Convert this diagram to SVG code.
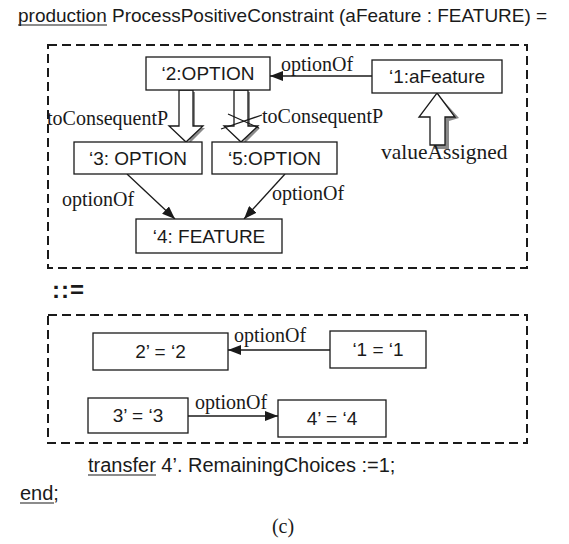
<svg xmlns="http://www.w3.org/2000/svg" width="569" height="544" viewBox="0 0 569 544">
  <style>
    .sans { font-family: "Liberation Sans", Arial, sans-serif; font-size: 19px; fill: #1a1a1a; }
    .serif { font-family: "Liberation Serif", "Times New Roman", serif; font-size: 20px; fill: #1a1a1a; }
    .node rect { fill: #ffffff; stroke: #1a1a1a; stroke-width: 1.3; }
    .node text { text-anchor: middle; }
    .frame { fill: none; stroke: #1a1a1a; stroke-width: 2; stroke-dasharray: 9 5; }
    .edge { fill: none; stroke: #1a1a1a; stroke-width: 1.3; }
    .hollow { fill: #ffffff; stroke: #1a1a1a; stroke-width: 1.3; }
    .shadow { fill: #8a8a8a; stroke: none; }
    .ul { stroke: #1a1a1a; stroke-width: 1.2; }
  </style>
  <defs>
    <marker id="tri" viewBox="0 0 13 10" refX="13" refY="5" markerWidth="13" markerHeight="10" markerUnits="userSpaceOnUse" orient="auto">
      <path d="M0,0 L13,5 L0,10 Z" fill="#1a1a1a"/>
    </marker>
  </defs>

  <rect width="569" height="544" fill="#ffffff"/>

  <!-- heading -->
  <text class="sans" x="18" y="22">production ProcessPositiveConstraint (aFeature : FEATURE) =</text>
  <line class="ul" x1="18" y1="25" x2="107" y2="25"/>

  <!-- left-hand side frame -->
  <rect class="frame" x="48" y="45" width="479" height="223"/>

  <!-- right-hand side frame -->
  <text class="sans" x="52" y="298" style="font-weight: bold; font-size: 24px; letter-spacing: 1px;">::=</text>
  <rect class="frame" x="48" y="315" width="479" height="128"/>

  <!-- connectors -->
  <g id="connectors">
    <!-- LHS -->
    <line class="edge" x1="372" y1="76" x2="270" y2="76" marker-end="url(#tri)"/>
    <text class="serif" x="281" y="71">optionOf</text>

    <!-- toConsequentP (left) -->
    <polygon class="shadow" points="182,92 195,92 195,128 205,128 189,144 191,128 191,92"/>
    <polygon class="hollow" points="179,90 193,90 193,126 203,126 186,142 169,126 179,126"/>
    <text class="serif" x="47" y="125">toConsequentP</text>

    <!-- toConsequentP (right, negated) -->
    <polygon class="shadow" points="237,92 250,92 250,128 260,128 244,144 246,128 246,92"/>
    <polygon class="hollow" points="234,90 248,90 248,126 258,126 241,142 224,126 234,126"/>
    <line class="edge" x1="221" y1="129" x2="262" y2="115"/>
    <line class="edge" x1="228" y1="114" x2="259" y2="128"/>
    <text class="serif" x="262" y="123">toConsequentP</text>

    <!-- valueAssigned -->
    <polygon class="shadow" points="434,121 449,121 449,149 434,149"/>
    <polygon class="shadow" points="441,98 459,118 449,121 441,121"/>
    <polygon class="hollow" points="437,93 455,117 445,117 445,145 430,145 430,117 419,117"/>
    <text class="serif" x="381" y="159" style="font-size: 21.5px;">valueAssigned</text>

    <line class="edge" x1="127" y1="174" x2="175" y2="219" marker-end="url(#tri)"/>
    <text class="serif" x="62" y="206">optionOf</text>
    <line class="edge" x1="285" y1="174" x2="244" y2="219" marker-end="url(#tri)"/>
    <text class="serif" x="272" y="200">optionOf</text>

    <!-- RHS -->
    <line class="edge" x1="330" y1="350" x2="228" y2="350" marker-end="url(#tri)"/>
    <text class="serif" x="234" y="342">optionOf</text>
    <line class="edge" x1="188" y1="416" x2="278" y2="416" marker-end="url(#tri)"/>
    <text class="serif" x="195" y="409">optionOf</text>
  </g>

  <!-- LHS nodes -->
  <g id="lhs-option2" class="node">
    <rect x="146" y="57" width="124" height="33"/>
    <text class="sans" x="208" y="80">‘2:OPTION</text>
  </g>
  <g id="lhs-afeature1" class="node">
    <rect x="372" y="60" width="130" height="33"/>
    <text class="sans" x="437" y="83">‘1:aFeature</text>
  </g>
  <g id="lhs-option3" class="node">
    <rect x="74" y="142" width="128" height="32"/>
    <text class="sans" x="138" y="165">‘3: OPTION</text>
  </g>
  <g id="lhs-option5" class="node">
    <rect x="212" y="142" width="125" height="32"/>
    <text class="sans" x="274.5" y="165">‘5:OPTION</text>
  </g>
  <g id="lhs-feature4" class="node">
    <rect x="136" y="219" width="146" height="34"/>
    <text class="sans" x="209" y="243">‘4: FEATURE</text>
  </g>

  <!-- RHS nodes -->
  <g id="rhs-2" class="node">
    <rect x="93" y="333" width="135" height="37"/>
    <text class="sans" x="160.5" y="358">2’ = ‘2</text>
  </g>
  <g id="rhs-1" class="node">
    <rect x="330" y="331" width="96" height="37"/>
    <text class="sans" x="378" y="356">‘1 = ‘1</text>
  </g>
  <g id="rhs-3" class="node">
    <rect x="88" y="398" width="100" height="35"/>
    <text class="sans" x="138" y="422">3’ = ‘3</text>
  </g>
  <g id="rhs-4" class="node">
    <rect x="278" y="400" width="108" height="37"/>
    <text class="sans" x="332" y="425">4’ = ‘4</text>
  </g>

  <!-- transfer clause and closing -->
  <text class="sans" x="88" y="472" style="font-size: 20px;">transfer 4’. RemainingChoices :=1;</text>
  <line class="ul" x1="88" y1="475" x2="156" y2="475"/>
  <text class="sans" x="20" y="500" style="font-size: 20px;">end;</text>
  <line class="ul" x1="20" y1="503" x2="54" y2="503"/>
  <text class="serif" x="283" y="533" text-anchor="middle">(c)</text>
</svg>
